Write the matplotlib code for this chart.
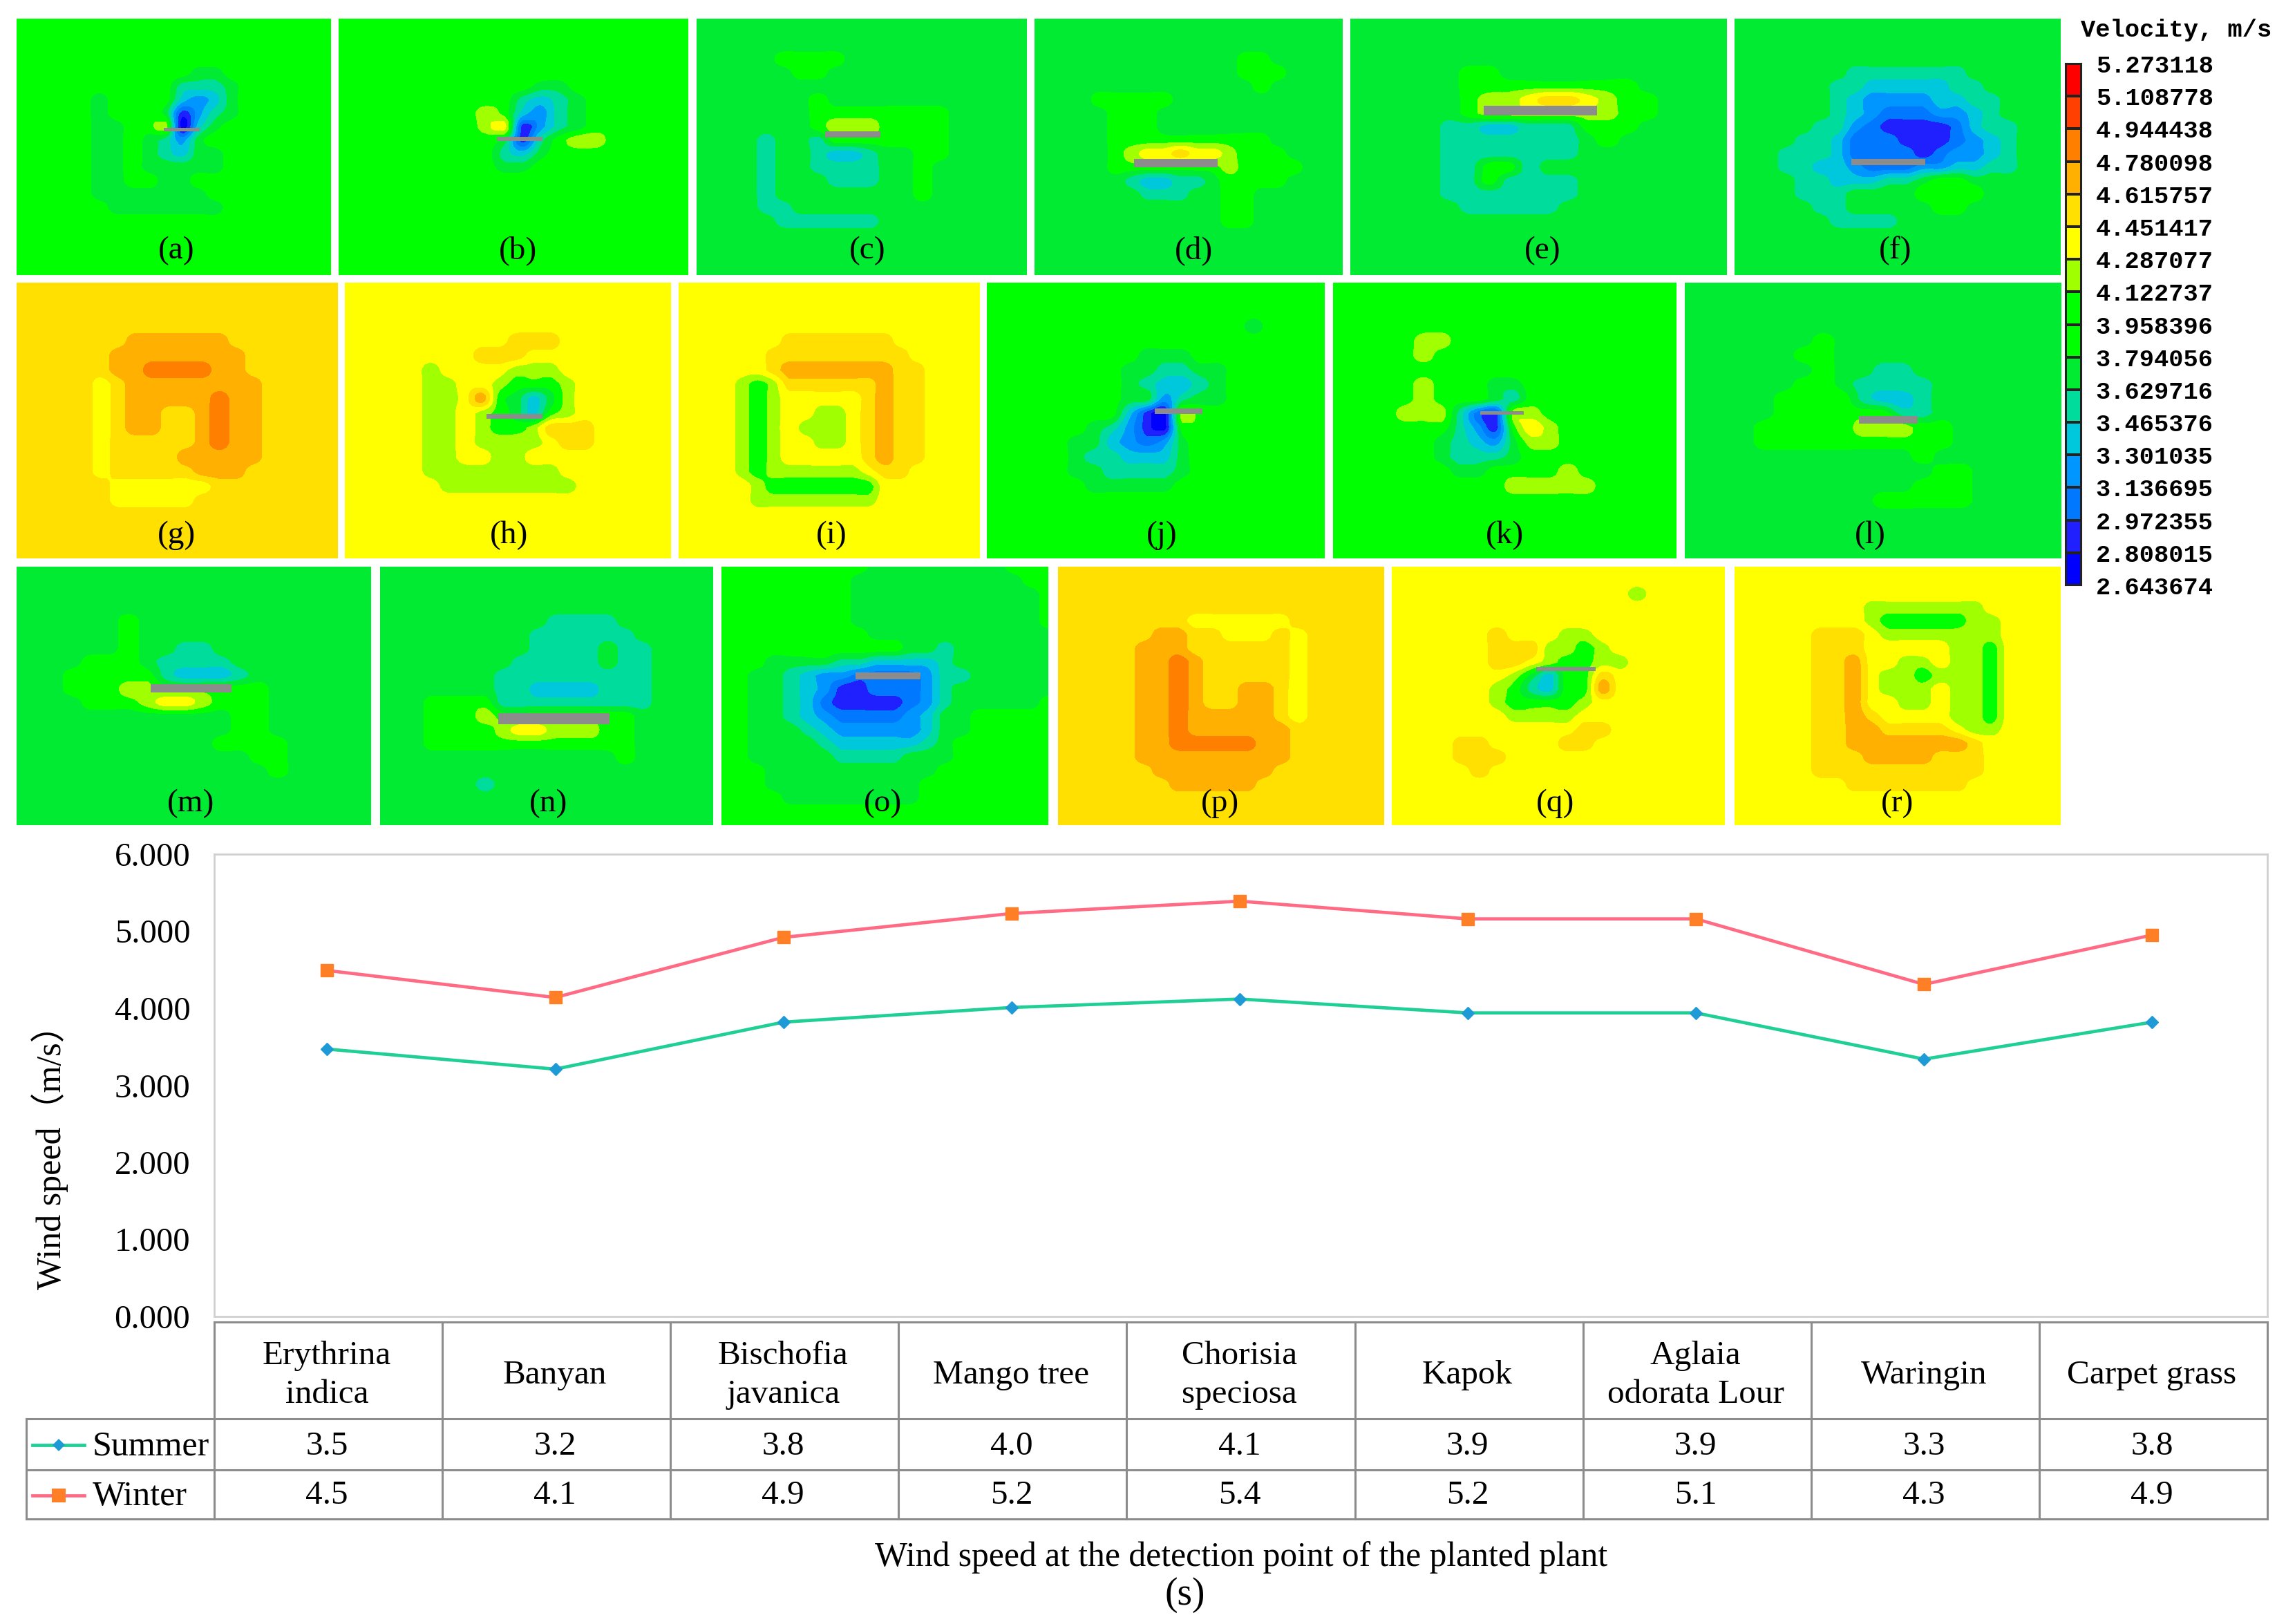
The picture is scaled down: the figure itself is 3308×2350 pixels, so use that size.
import numpy as np
import matplotlib
matplotlib.use("Agg")
import matplotlib.pyplot as plt
from matplotlib.colors import ListedColormap
from matplotlib.patches import Rectangle

W, H = 3308, 2350
SERIF = ['Liberation Serif', 'Noto Sans CJK SC', 'DejaVu Sans']

# ---------- data: chart ----------
species = ["Erythrina\nindica", "Banyan", "Bischofia\njavanica", "Mango tree",
           "Chorisia\nspeciosa", "Kapok", "Aglaia\nodorata Lour", "Waringin", "Carpet grass"]
summer_line = [3.47, 3.21, 3.82, 4.01, 4.12, 3.94, 3.94, 3.34, 3.82]
winter_line = [4.49, 4.14, 4.92, 5.23, 5.39, 5.16, 5.16, 4.31, 4.95]
summer_table = ["3.5", "3.2", "3.8", "4.0", "4.1", "3.9", "3.9", "3.3", "3.8"]
winter_table = ["4.5", "4.1", "4.9", "5.2", "5.4", "5.2", "5.1", "4.3", "4.9"]
y_ticks = [0, 1, 2, 3, 4, 5, 6]

# ---------- data: colour legend ----------
legend_levels = [2.643674, 2.808015, 2.972355, 3.136695, 3.301035, 3.465376, 3.629716, 3.794056,
                 3.958396, 4.122737, 4.287077, 4.451417, 4.615757, 4.780098, 4.944438, 5.108778, 5.273118]
legend_colors = ["#0000FF", "#2020FF", "#0078FF", "#0096FF", "#00C8DC", "#00DC9B", "#00EB32", "#00FF00",
                 "#00FF00", "#A0FF00", "#FFFF00", "#FFE000", "#FFB000", "#FF8000", "#FF4000", "#FF0000"]
# bands in the panels: same scale with the two identical greens merged, one hex digit per grid node
band_colors = ["#0000FF", "#2020FF", "#0078FF", "#0096FF", "#00C8DC", "#00DC9B", "#00EB32", "#00FF00",
               "#A0FF00", "#FFFF00", "#FFE000", "#FFB000", "#FF8000", "#FF4000", "#FF0000"]

# ---------- data: velocity band read at a 20x20 grid; row -> nodes; the rest is background ----------
a_rows = {4:"77777777777667",5:"77777777775556",6:"77777677774346",7:"77777677761356",8:"7777766778046",
          9:"7777766765367",10:"7777766765466",11:"7777766766666",12:"777776677667",13:"777776666666",14:"7777776666666"}
b_rows = {5:"7777777777766",6:"77777777775456",7:"77777777874356",8:"77777777891356",9:"777777777615788",
          10:"7777777775467",11:"77777777766"}
c_rows = {3:"666667777",4:"66666677",6:"66666667",7:"666666677777777",8:"666666678887777",9:"666656657777777",
          10:"666656654456677",11:"66665665555667",12:"66665666555667",13:"66665666666667",14:"666655",15:"66666555555"}
d_rows = {3:"666666666666677",4:"6666666666666777",5:"666666666666667",6:"666677777",7:"66666777",8:"66666777",
          9:"666667777777777",10:"666667899a998777",11:"66666777777787777",12:"6666665445567777",
          13:"66666665556677",14:"66666666666677",15:"66666666666677"}
e_rows = {4:"66666677",5:"666666777777777",6:"6666667889aa9877",7:"6666667888888877",8:"666665544555777",
          9:"66666555555567",10:"666665555555",11:"6666655775",12:"666665575555",13:"666665555555",14:"66666655555"}
f_rows = {4:"66666665555555",5:"666666554444455",6:"6666665433334455",7:"6666665432223345",8:"66666553211112455",
          9:"66665542221112345",10:"66655542222123345",11:"66655443222334455",12:"66665544455677",
          13:"666655566667777",14:"66666556666677",15:"6666665555"}
g_rows = {4:"aaaaaaabbbbbb",5:"aaaaaabbbbbbbb",6:"aaaaaabbccccbb",7:"aaaaa9abbbbbbbb",8:"aaaaa9abbbbbcbb",
          9:"aaaaa9abbaabcbb",10:"aaaaa9abbaabcbb",11:"aaaaa9aaaaabcbb",12:"aaaaa9aaaabbbbb",13:"aaaaa9aaaaabbb",
          14:"aaaaaa999999",15:"aaaaaa99999"}
h_rows = {4:"9999999999aaa",5:"99999999aaa",6:"9999989999888",7:"99999889987778",8:"99999889b76468",9:"99999889876478",
          10:"999998898778aaa",11:"9999988988889aa",12:"99999889988",13:"9999988888888",14:"99999988888888"}
i_rows = {4:"9999999aaaaaaa",5:"999999aaaaaaaaa",6:"999999abbbbbbbaa",7:"9999878aaaaaabaa",8:"999987899999abaa",
          9:"999987899889abaa",10:"999987898889abaa",11:"999987899889abaa",12:"999987899999abaa",13:"9999878888889aa",
          14:"99999877777779",15:"9999988888888"}
j_rows = {3:"7777777777777776",5:"777777777666",6:"77777777665566",7:"77777777654456",8:"77777777663566",9:"777777774108",
          10:"777777653107",11:"777776643236",12:"777776554446",13:"777776655556",14:"77777766666"}
k_rows = {4:"7777788",5:"777778",7:"77777877766",8:"777778777657",9:"7777888521887",10:"7777777531798",
          11:"7777776543688",12:"77777765556",13:"77777776677778",14:"777777777788888"}
l_rows = {4:"66666667",5:"66666677",6:"666666676655",7:"6666667765555",8:"6666677775445",9:"6666677777755",
          10:"66667777788877",11:"66667777777777",12:"6666666666667",13:"666666666666677",14:"666666666666777",15:"666666666677777"}
m_rows = {4:"6666667",5:"6666667",6:"66666676655",7:"6666777655556",8:"6667777754445",9:"66677788777777",
          10:"66667778998777",11:"66666666666677",12:"66666666666677",13:"666666666667777",14:"666666666666677",15:"666666666666667"}
n_rows = {4:"66666666665555",5:"6666666665555556",6:"6666666665555655",7:"6666666655555655",8:"6666666555555555",
          9:"6666666554444555",10:"6667777555555555",11:"666777877777777",12:"666777789988877",13:"666777777777777",
          14:"666666666666667",16:"6666665"}
o_rows = {0:"77777777766666666777",1:"77777777666666666677",2:"77777777666666666667",3:"77777777666666666667",
          4:"77777777666666666667",5:"77777777766666666666",6:"77777777777665666666",7:"77766665544445666666",
          8:"77665433222235566666",9:"77665431122235666666",10:"77665421111235666667",11:"7766543222234667",
          12:"7766654333334667",13:"776666544444567",14:"77666665555666",15:"7776666666666",16:"777666666666",17:"777766666666"}
p_rows = {4:"aaaaaaaa999999",5:"aaaaaabbaa999a9",6:"aaaaabbbaaaaaa9",7:"aaaaabbcbaaaaa9",8:"aaaaabbcbaaaaa9",
          9:"aaaaabbcbaabba9",10:"aaaaabbcbaabba9",11:"aaaaabbcbbbbba9",12:"aaaaabbcbbbbbb",13:"aaaaabbcccccbb",
          14:"aaaaabbbbbbbbb",15:"aaaaaabbbbbbb",16:"aaaaaaabbbbb"}
q_rows = {2:"999999999999998",5:"999999a99988",6:"999999aaa8878",7:"999999aa987788",8:"999999986477a",9:"999999875477b",
          10:"999999877778",11:"99999998888",12:"99999999999aa",13:"9999aa9999aa",14:"9999aaa",15:"99999a"}
r_rows = {3:"999999998888888",4:"9999999987777788",5:"99999aaa98888888",6:"99999aaa99999887",7:"99999aab99889887",
          8:"99999aab98878887",9:"99999aab98889887",10:"99999aab99889887",11:"99999aaba9999887",12:"99999aabbaaaa988",
          13:"99999aabbbbbbba",14:"99999aaabbbbaaa",15:"99999aaaaaaaaaa",16:"9999999aaaaaaa"}

panel_names = list("abcdefghijklmnopqr")
panel_rows = [a_rows, b_rows, c_rows, d_rows, e_rows, f_rows, g_rows, h_rows, i_rows,
              j_rows, k_rows, l_rows, m_rows, n_rows, o_rows, p_rows, q_rows, r_rows]
panel_bg = list("776666a99776667a99")

# ---------- layout (pixels) ----------
panel_x = [(24, 479), (490, 996), (1008, 1486), (1497, 1943), (1954, 2499), (2510, 2982),
           (24, 489), (499, 971), (982, 1418), (1428, 1917), (1929, 2426), (2438, 2983),
           (24, 537), (550, 1032), (1044, 1517), (1531, 2003), (2014, 2496), (2510, 2982)]
row_y = [(27, 398), (409, 808), (820, 1194)]
label_x = [255, 749, 1255, 1727, 2232, 2743, 256, 737, 1203, 1681, 2177, 2706, 276, 794, 1277, 1765, 2251, 2746]
label_y = [363, 775, 1163]
plates = {'a': (237, 289, 185, 190), 'b': (719, 785, 198, 204), 'c': (1194, 1274, 190, 199),
          'd': (1641, 1762, 230, 242), 'e': (2147, 2311, 153, 167), 'f': (2679, 2786, 230, 239),
          'h': (704, 785, 599, 606), 'j': (1671, 1740, 591, 599), 'k': (2142, 2205, 595, 600),
          'l': (2690, 2775, 602, 613), 'm': (218, 335, 990, 1002), 'n': (721, 882, 1032, 1048),
          'o': (1238, 1332, 973, 983), 'q': (2223, 2309, 965, 971)}
N = 20
FINE = 6


def px_axes(fig, x0, x1, y0, y1, **kw):
    return fig.add_axes([x0 / W, 1 - y1 / H, (x1 - x0) / W, (y1 - y0) / H], **kw)


def grid_from(rows, bg):
    g = np.full((N, N), int(bg, 16), dtype=float)
    for r, s in rows.items():
        for c, ch in enumerate(s[:N]):
            g[r, c] = int(ch, 16)
    return g


def refine_axis0(g):
    """Rounded resampling between read nodes, limited to each cell's own two end values."""
    n = g.shape[0]
    out = []
    for i in range(n - 1):
        p0, p1 = g[max(i - 1, 0)], g[i]
        p2, p3 = g[i + 1], g[min(i + 2, n - 1)]
        for t in np.arange(FINE) / FINE:
            v = 0.5 * (2 * p1 + (p2 - p0) * t + (2 * p0 - 5 * p1 + 4 * p2 - p3) * t ** 2
                       + (3 * p1 - p0 - 3 * p2 + p3) * t ** 3)
            out.append(np.clip(v, np.minimum(p1, p2), np.maximum(p1, p2)))
    out.append(g[-1])
    return np.array(out)


def refine(g):
    return refine_axis0(refine_axis0(g).T).T


fig = plt.figure(figsize=(W / 100, H / 100), dpi=100, facecolor='white')

# contour panels
band_levels = np.arange(-0.5, len(band_colors))
fine_axis = np.linspace(0, 1, (N - 1) * FINE + 1)
for i, name in enumerate(panel_names):
    x0, x1 = panel_x[i]
    y0, y1 = row_y[i // 6]
    ax = px_axes(fig, x0, x1, y0, y1)
    ax.contourf(fine_axis, fine_axis, refine(grid_from(panel_rows[i], panel_bg[i])),
                levels=band_levels, colors=band_colors)
    ax.set_xlim(0, 1)
    ax.set_ylim(1, 0)
    ax.axis('off')

# colour legend
cb = px_axes(fig, 2989, 3012, 92, 847)
cb.pcolormesh([0, 1], legend_levels, np.arange(16)[:, None], cmap=ListedColormap(legend_colors),
              edgecolors='#222222', linewidth=1.5)
cb.set_xticks([])
cb.set_yticks(legend_levels)
cb.set_yticklabels([f"{v:.6f}" for v in legend_levels], family='Liberation Mono', weight='bold', fontsize=25.5)
cb.yaxis.tick_right()
cb.tick_params(axis='y', length=0, pad=15)
for s in cb.spines.values():
    s.set_linewidth(1.5)
    s.set_color('#222222')

# line chart
ch = px_axes(fig, 310, 3281, 1236, 1905)
xpos = np.arange(len(species)) + 0.5
SUMMER_LINE, SUMMER_MARK = "#1FCF96", "#1E9BD7"
WINTER_LINE, WINTER_MARK = "#FF6B85", "#FF7F27"
ch.plot(xpos - 0.005, summer_line, color=SUMMER_LINE, lw=3.4, marker='D', ms=9.5, mfc=SUMMER_MARK, mec=SUMMER_MARK)
ch.plot(xpos - 0.005, winter_line, color=WINTER_LINE, lw=3.4, marker='s', ms=13, mfc=WINTER_MARK, mec=WINTER_MARK)
ch.set_xlim(0, len(species))
ch.set_ylim(0, 6)
ch.set_xticks([])
ch.set_yticks(y_ticks)
ch.set_yticklabels([f"{v:.3f}" for v in y_ticks], family=SERIF, fontsize=35)
ch.tick_params(axis='y', length=0, pad=25)
for s in ch.spines.values():
    s.set_color('#D0D0D0')
    s.set_linewidth(2)

# overlay in pixel coordinates: plates, labels, table
ov = fig.add_axes([0, 0, 1, 1], facecolor='none')
ov.set_xlim(0, W)
ov.set_ylim(H, 0)
ov.axis('off')
for name, (x0, x1, y0, y1) in plates.items():
    ov.add_patch(Rectangle((x0, y0), x1 - x0, y1 - y0, fc='#8C8C8C', ec='none'))
for i, name in enumerate(panel_names):
    ov.text(label_x[i], label_y[i // 6], f"({name})", family=SERIF, fontsize=34, ha='center', va='center')

ov.text(3149, 44, "Velocity, m/s", family='Liberation Mono', weight='bold', fontsize=25.5, ha='center', va='center')

# table
tx0, tx1 = 310, 3281
col_w = (tx1 - tx0) / len(species)
t_top, t_head, t_s, t_w = 1913, 2053, 2127, 2198
leg_left = 38
GRID = '#8C8C8C'
LW = 2.2
for k in range(len(species) + 1):
    ov.plot([tx0 + k * col_w] * 2, [t_top, t_w], color=GRID, lw=LW, solid_capstyle='projecting')
ov.plot([tx0, tx1], [t_top, t_top], color=GRID, lw=LW)
for yy in (t_head, t_s, t_w):
    ov.plot([leg_left, tx1], [yy, yy], color=GRID, lw=LW, solid_capstyle='projecting')
ov.plot([leg_left, leg_left], [t_head, t_w], color=GRID, lw=LW)
for k, name in enumerate(species):
    cx = tx0 + (k + 0.5) * col_w
    ov.text(cx - 2, (t_top + t_head) / 2 + 7, name, family=SERIF, fontsize=35.5, ha='center', va='center', linespacing=1.36)
    ov.text(cx - 2, (t_head + t_s) / 2 + 3, summer_table[k], family=SERIF, fontsize=35.5, ha='center', va='center')
    ov.text(cx - 2, (t_s + t_w) / 2 + 2, winter_table[k], family=SERIF, fontsize=35.5, ha='center', va='center')
ov.plot([47, 122], [2091, 2091], color=SUMMER_LINE, lw=3.4)
ov.plot([85], [2091], marker='D', ms=9.5, color=SUMMER_MARK, mew=0)
ov.text(134, 2093, "Summer", family=SERIF, fontsize=36, ha='left', va='center')
ov.plot([47, 122], [2164, 2164], color=WINTER_LINE, lw=3.4)
ov.plot([85], [2164], marker='s', ms=14, color=WINTER_MARK, mew=0)
ov.text(134, 2166, "Winter", family=SERIF, fontsize=36, ha='left', va='center')

ov.text(72, 1662, "Wind speed（m/s）", family=SERIF, fontsize=36, rotation=90, ha='center', va='center')
ov.text(1796, 2254, "Wind speed at the detection point of the planted plant", family=SERIF, fontsize=35.7,
        ha='center', va='center')
ov.text(1715, 2308, "(s)", family=SERIF, fontsize=40, ha='center', va='center')

fig.savefig("out.png", dpi=100)
